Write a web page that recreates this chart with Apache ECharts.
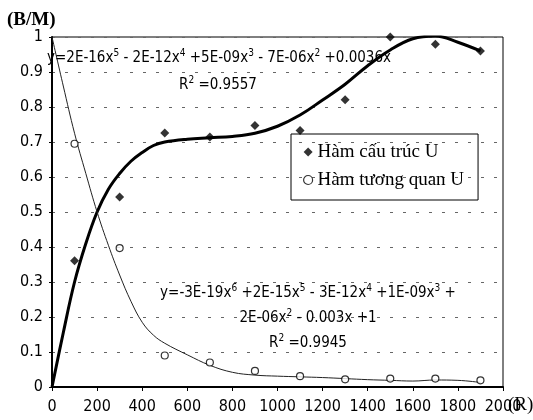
<!DOCTYPE html>
<html>
<head>
  <meta charset="utf-8">
  <title>Hàm cấu trúc U</title>
  <script src="https://cdn.jsdelivr.net/npm/echarts@6/dist/echarts.min.js"></script>
  <style>
    html, body { margin: 0; padding: 0; background: #fff; }
    #main { width: 533px; height: 420px; }
  </style>
</head>
<body>
  <div id="main"></div>
  <script type="text/javascript">
    // measured points (R, value)
    var pointX = [100, 300, 500, 700, 900, 1100, 1300, 1500, 1700, 1900];
    var structU = [0.361, 0.543, 0.726, 0.714, 0.747, 0.733, 0.821, 1.0, 0.979, 0.96];
    var corrU = [0.695, 0.397, 0.09, 0.07, 0.046, 0.031, 0.022, 0.024, 0.024, 0.019];

    // trend lines
    var trendX = [0, 50, 100, 150, 200, 250, 300, 350, 400, 450, 500, 600, 700, 800, 900,
                  1000, 1100, 1200, 1300, 1400, 1500, 1600, 1700, 1800, 1900];
    var structTrend = [0, 0.155, 0.3, 0.41, 0.5, 0.565, 0.61, 0.645, 0.67, 0.69, 0.7, 0.708, 0.712, 0.716, 0.725,
                       0.745, 0.777, 0.82, 0.865, 0.918, 0.963, 0.995, 1.003, 0.985, 0.96];
    var corrTrend = [1.0, 0.86, 0.725, 0.61, 0.5, 0.405, 0.32, 0.245, 0.185, 0.148, 0.125, 0.092, 0.062, 0.042, 0.034,
                     0.031, 0.029, 0.027, 0.024, 0.021, 0.019, 0.017, 0.02, 0.019, 0.013];

    var seriesNames = ['Hàm cấu trúc U', 'Hàm tương quan U'];
    // equation pieces: normal, superscript, normal, superscript ...
    var eq1 = ['y=2E-16x', '5', ' - 2E-12x', '4', ' +5E-09x', '3', ' - 7E-06x', '2', ' +0.0036x'];
    var eq1R = ['R', '2', ' =0.9557'];
    var eq2a = ['y=-3E-19x', '6', ' +2E-15x', '5', ' - 3E-12x', '4', ' +1E-09x', '3', ' +'];
    var eq2b = ['2E-06x', '2', ' - 0.003x +1'];
    var eq2R = ['R', '2', ' =0.9945'];

    var narrow = "'Liberation Sans Narrow','DejaVu Sans Condensed','Arial Narrow',sans-serif";
    var serif = "'Liberation Serif','Times New Roman',serif";

    function zip(xs, ys) {
      var out = [];
      for (var i = 0; i < xs.length; i++) out.push([xs[i], ys[i]]);
      return out;
    }

    function rich(parts) {
      var s = '';
      for (var i = 0; i < parts.length; i++) {
        s += (i % 2 === 0 ? '{n|' : '{s|') + parts[i] + '}';
      }
      return s;
    }

    var eqRich = {
      n: { fontFamily: narrow, fontSize: 15, lineHeight: 20, color: '#000' },
      s: { fontFamily: narrow, fontSize: 10, lineHeight: 14, verticalAlign: 'top', color: '#000' }
    };

    function eqText(parts, x, y) {
      return {
        type: 'text', x: x, y: y, z: 10,
        style: {
          text: rich(parts), rich: eqRich,
          align: 'center', verticalAlign: 'middle',
          textAlign: 'center', textVerticalAlign: 'middle'
        }
      };
    }

    var myChart = echarts.init(document.getElementById('main'));

    var option = {
      backgroundColor: '#fff',
      animation: false,
      grid: {
        left: 52, top: 37, right: 30, bottom: 33,
        show: true, borderColor: '#000', borderWidth: 1
      },
      xAxis: {
        type: 'value', min: 0, max: 2000, interval: 200,
        axisLine: { show: true, lineStyle: { color: '#000', width: 2 } },
        axisTick: { show: true, length: 4, lineStyle: { color: '#000' } },
        axisLabel: {
          color: '#000', fontFamily: narrow, fontSize: 16, margin: 12,
          formatter: function (v) { return String(v); }
        },
        splitLine: { show: false }
      },
      yAxis: {
        type: 'value', min: 0, max: 1, interval: 0.1,
        axisLine: { show: true, lineStyle: { color: '#000', width: 2 } },
        axisTick: { show: true, length: 3, lineStyle: { color: '#000' } },
        axisLabel: { color: '#000', fontFamily: narrow, fontSize: 16, margin: 9 },
        splitLine: { show: true, lineStyle: { color: '#666', type: [3, 10], width: 1 } }
      },
      legend: {
        left: 291, top: 134, orient: 'vertical',
        padding: [8, 14, 10, 12],
        itemGap: 8, itemWidth: 9, itemHeight: 9,
        borderColor: '#000', borderWidth: 1,
        textStyle: { fontFamily: serif, fontSize: 19, color: '#000', lineHeight: 20 },
        data: [
          { name: seriesNames[0], icon: 'diamond', itemStyle: { color: '#000' } },
          { name: seriesNames[1], icon: 'circle', itemStyle: { color: '#fff', borderColor: '#000', borderWidth: 1.2 } }
        ]
      },
      graphic: [
        { type: 'text', x: 7, y: 20, style: { text: '(B/M)', font: 'bold 19px ' + serif, fill: '#000', verticalAlign: 'middle', textVerticalAlign: 'middle' } },
        { type: 'text', x: 508, y: 405, style: { text: '(R)', font: '19px ' + serif, fill: '#000', verticalAlign: 'middle', textVerticalAlign: 'middle' } },
        eqText(eq1, 219, 58),
        eqText(eq1R, 218, 85),
        eqText(eq2a, 308, 293),
        eqText(eq2b, 308, 318),
        eqText(eq2R, 308, 343)
      ],
      series: [
        {
          name: 'trend structure', type: 'line', data: zip(trendX, structTrend),
          smooth: 0.4, showSymbol: false, silent: true, z: 2,
          lineStyle: { color: '#000', width: 3 }
        },
        {
          name: 'trend correlation', type: 'line', data: zip(trendX, corrTrend),
          smooth: 0.4, showSymbol: false, silent: true, z: 2,
          lineStyle: { color: '#222', width: 1 }
        },
        {
          name: seriesNames[0], type: 'scatter', data: zip(pointX, structU),
          symbol: 'diamond', symbolSize: 9, z: 3,
          itemStyle: { color: '#000' }
        },
        {
          name: seriesNames[1], type: 'scatter', data: zip(pointX, corrU),
          symbol: 'circle', symbolSize: 7, z: 3,
          itemStyle: { color: '#fff', borderColor: '#000', borderWidth: 1.2 }
        }
      ]
    };

    myChart.setOption(option);
  </script>
</body>
</html>
